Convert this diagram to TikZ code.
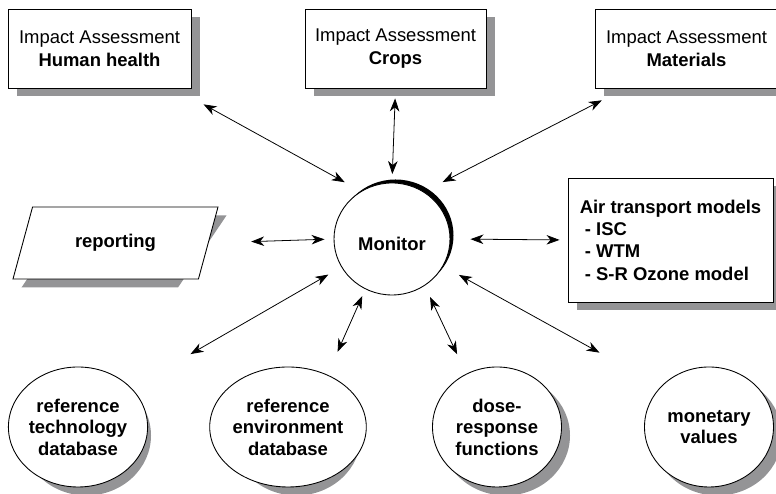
\documentclass[tikz,border=0pt]{standalone}
\usepackage{fontspec}
\setmainfont{Liberation Sans}
\usepackage{tikz}
\usetikzlibrary{arrows.meta, shapes.geometric}
\definecolor{shadowgray}{RGB}{148,148,150}

\begin{document}
\begin{tikzpicture}[
    >={Stealth[length=0.26cm, width=0.19cm, inset=0.08cm]},
    every node/.style={font=\fontsize{10.5}{13}\selectfont},
    impactbox/.style={draw, fill=white, line width=0.5pt, minimum width=3.66cm, minimum height=1.58cm, align=center},
    dbcircle/.style={draw, fill=white, ellipse, line width=0.5pt, minimum width=2.58cm, minimum height=2.4cm, inner sep=0pt, align=center, font=\fontsize{10.5}{12.2}\selectfont\bfseries},
    reportbox/.style={draw, fill=white, trapezium, trapezium left angle=56, trapezium right angle=124, trapezium stretches body, minimum width=4.1cm, minimum height=1.44cm, line width=0.5pt, font=\fontsize{10.5}{13}\selectfont\bfseries},
    modelbox/.style={draw, fill=white, line width=0.5pt, minimum width=4.1cm, minimum height=2.48cm, align=left, font=\fontsize{10.5}{12.7}\selectfont\bfseries},
    monitorcircle/.style={draw, fill=white, ellipse, line width=0.5pt, minimum width=2.32cm, minimum height=2.24cm, inner sep=0pt, text height=0.47cm, text depth=0pt, font=\fontsize{10.5}{13}\selectfont\bfseries},
    link/.style={<->, line width=0.45pt}
]
    \useasboundingbox (0,0) rectangle (15.52,9.88);

    % Shadows (drawn first, the boxes cover them)
    \fill[shadowgray] (0.33,7.95) rectangle (3.99,9.53);
    \fill[shadowgray] (6.27,7.95) rectangle (9.89,9.53);
    \fill[shadowgray] (12.07,7.95) rectangle (15.73,9.53);
    \fill[shadowgray] (11.53,3.67) rectangle (15.63,6.15);
    \fill[shadowgray] (0.43,4.13) -- (3.56,4.13) -- (4.53,5.57) -- (1.40,5.57) -- cycle;
    \fill[shadowgray] (1.73,1.17) ellipse [x radius=1.29cm, y radius=1.2cm];
    \fill[shadowgray] (5.93,1.17) ellipse [x radius=1.29cm, y radius=1.2cm];
    \fill[shadowgray] (10.11,1.17) ellipse [x radius=1.29cm, y radius=1.2cm];
    \fill[shadowgray] (14.35,1.17) ellipse [x radius=1.29cm, y radius=1.2cm];
    % black rim of the monitor
    \fill[black] (7.91,5.17) ellipse [x radius=1.16cm, y radius=1.12cm];

    % TOP: impact assessment boxes
    \node[impactbox] (health) at (1.99,8.91) {Impact Assessment\\\textbf{Human health}};
    \node[impactbox, minimum width=3.62cm] (crops) at (7.91,8.91) {Impact Assessment\\\textbf{Crops}};
    \node[impactbox] (materials) at (13.73,8.91) {Impact Assessment\\\textbf{Materials}};

    % MIDDLE: reporting, monitor, models
    \node[reportbox] (report) at (2.31,5.02) {reporting};
    \node[monitorcircle] (monitor) at (7.84,5.10) {Monitor};
    \node[modelbox] (airmodels) at (13.41,5.08) {Air transport models\\\ - ISC\\\ - WTM\\\ - S-R Ozone model};

    % BOTTOM: databases
    \node[dbcircle] (reftech) at (1.56,1.34) {reference\\technology\\database};
    \node[dbcircle] (refenv) at (5.76,1.34) {reference\\environment\\database};
    \node[dbcircle] (dose) at (9.94,1.34) {dose-\\response\\functions};
    \node[dbcircle] (money) at (14.18,1.34) {monetary\\values};

    % Links to the monitor
    \draw[link, shorten <=0.66cm, shorten >=0.37cm] (health.-28) -- (monitor.123);
    \draw[link, shorten <=0.2cm, shorten >=0.17cm] (crops.south) -- (monitor.north);
    \draw[link, shorten <=0.52cm, shorten >=0.42cm] (materials.-147) -- (monitor.56);
    \draw[link, shorten <=0.85cm, shorten >=0.18cm] (report.east) -- (monitor.west);
    \draw[link, shorten <=0.4cm, shorten >=0.16cm] (monitor.east) -- (airmodels.west);
    \draw[link, shorten <=1.36cm, shorten >=0.3cm] (reftech.36) -- (monitor.209);
    \draw[link, shorten <=0.5cm, shorten >=0.15cm] (refenv.53.5) -- (monitor.242);
    \draw[link, shorten <=0.43cm, shorten >=0.25cm] (dose.120.5) -- (monitor.-55);
    \draw[link, shorten <=0.36cm, shorten >=1.4cm] (monitor.-28.5) -- (money.140);
\end{tikzpicture}
\end{document}
